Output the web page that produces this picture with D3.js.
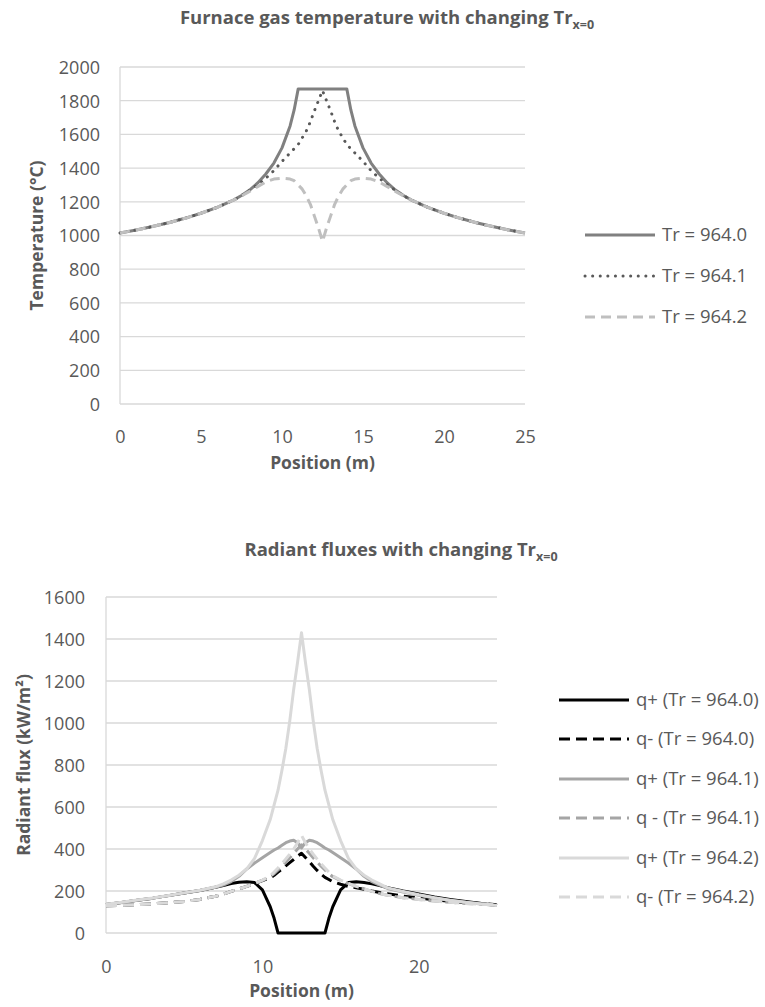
<!DOCTYPE html>
<html>
<head>
<meta charset="utf-8">
<script src="https://cdn.jsdelivr.net/npm/d3@7"></script>
<style>
  body { margin: 0; background: #fff; }
  svg text { font-family: "Open Sans", sans-serif; fill: #595959; }
</style>
</head>
<body>
<svg id="chart" width="765" height="1007"></svg>
<script>
// position grid (m), shared by all series
const position = [0, 1, 2, 3, 4, 5, 6, 7, 7.5, 8, 8.5, 9, 9.5, 10, 10.5,
    10.75, 11, 11.25, 11.5, 11.75, 12, 12.25, 12.5, 12.75, 13, 13.25, 13.5, 13.75, 14, 14.25,
    14.5, 15, 15.5, 16, 16.5, 17, 17.5, 18, 19, 20, 21, 22, 23, 24, 25]

// furnace gas temperature (°C)
const tempTr9640 = [1015, 1033, 1053, 1076, 1102, 1132, 1167, 1210, 1237, 1270, 1312, 1365, 1430, 1520, 1650,
    1745, 1870, 1870, 1870, 1870, 1870, 1870, 1870, 1870, 1870, 1870, 1870, 1870, 1870, 1745,
    1650, 1520, 1430, 1365, 1312, 1270, 1237, 1210, 1167, 1132, 1102, 1076, 1053, 1033, 1015]
const tempTr9641 = [1015, 1033, 1053, 1076, 1102, 1132, 1167, 1210, 1236, 1268, 1302, 1340, 1385, 1440, 1490,
    1515, 1540, 1580, 1620, 1675, 1740, 1800, 1860, 1800, 1740, 1675, 1620, 1580, 1540, 1515,
    1490, 1440, 1385, 1340, 1302, 1268, 1236, 1210, 1167, 1132, 1102, 1076, 1053, 1033, 1015]
const tempTr9642 = [1015, 1033, 1053, 1076, 1102, 1132, 1167, 1210, 1235, 1262, 1290, 1318, 1335, 1340, 1335,
    1325, 1300, 1275, 1235, 1185, 1115, 1045, 965, 1045, 1115, 1185, 1235, 1275, 1300, 1325,
    1335, 1340, 1335, 1318, 1290, 1262, 1235, 1210, 1167, 1132, 1102, 1076, 1053, 1033, 1015]

// radiant fluxes (kW/m²)
const qPlus9640 = [136, 145, 156, 166, 178, 190, 202, 218, 226, 236, 242, 244, 240, 205, 125,
    70, 0, 0, 0, 0, 0, 0, 0, 0, 0, 0, 0, 0, 0, 70,
    125, 205, 240, 244, 240, 234, 226, 216, 200, 186, 172, 160, 150, 140, 131]
const qMinus9640 = [130, 132, 135, 139, 144, 150, 160, 175, 185, 198, 210, 222, 235, 250, 262,
    275, 290, 305, 320, 335, 350, 365, 380, 360, 340, 318, 298, 280, 265, 255,
    244, 232, 222, 215, 208, 200, 193, 187, 176, 167, 158, 151, 145, 140, 135]
const qPlus9641 = [136, 145, 156, 166, 178, 190, 202, 218, 228, 245, 270, 305, 333, 358, 383,
    395, 405, 418, 430, 438, 442, 430, 405, 430, 442, 438, 430, 418, 405, 395,
    383, 358, 333, 305, 270, 245, 228, 212, 195, 180, 167, 155, 146, 138, 131]
const qMinus9641 = [130, 132, 135, 139, 144, 150, 160, 175, 185, 198, 210, 222, 235, 250, 268,
    283, 300, 318, 338, 358, 380, 400, 420, 400, 380, 358, 338, 318, 300, 283,
    268, 250, 235, 222, 210, 198, 188, 180, 168, 160, 152, 146, 141, 137, 134]
const qPlus9642 = [137, 146, 157, 167, 179, 191, 204, 220, 234, 252, 275, 305, 355, 440, 540,
    610, 680, 775, 880, 1010, 1160, 1290, 1430, 1290, 1160, 1010, 880, 775, 680, 610,
    540, 440, 355, 305, 275, 252, 234, 215, 198, 182, 168, 156, 146, 138, 131]
const qMinus9642 = [130, 132, 135, 139, 144, 150, 160, 175, 185, 198, 210, 222, 236, 252, 272,
    290, 310, 330, 352, 375, 400, 430, 465, 430, 400, 375, 352, 330, 310, 290,
    272, 252, 236, 222, 210, 198, 188, 180, 168, 160, 152, 146, 141, 137, 134]

const tempTicks = d3.range(0, 2001, 200)
const posTicksTop = [0, 5, 10, 15, 20, 25]
const fluxTicks = d3.range(0, 1601, 200)
const posTicksBottom = [0, 10, 20]

const tempSeries = [
    { name: "Tr = 964.0", values: tempTr9640, color: "#808080", dash: null },
    { name: "Tr = 964.1", values: tempTr9641, color: "#595959", dash: "0.1 7.5", cap: "round" },
    { name: "Tr = 964.2", values: tempTr9642, color: "#bfbfbf", dash: "10 6" },
]
const fluxSeries = [
    { name: "q+ (Tr = 964.0)", values: qPlus9640, color: "#000000", dash: null },
    { name: "q- (Tr = 964.0)", values: qMinus9640, color: "#000000", dash: "11 6" },
    { name: "q+ (Tr = 964.1)", values: qPlus9641, color: "#a5a5a5", dash: null },
    { name: "q - (Tr = 964.1)", values: qMinus9641, color: "#a5a5a5", dash: "11 6" },
    { name: "q+ (Tr = 964.2)", values: qPlus9642, color: "#d9d9d9", dash: null },
    { name: "q- (Tr = 964.2)", values: qMinus9642, color: "#d9d9d9", dash: "11 6" },
]

const svg = d3.select("#chart")

function drawChart(cfg) {
    const g = svg.append("g")
    const x = d3.scaleLinear().domain([0, 25]).range([cfg.left, cfg.right])
    const y = d3.scaleLinear().domain(cfg.yDomain).range([cfg.bottom, cfg.top])

    // gridlines
    g.append("g")
        .selectAll("line")
        .data(cfg.yTicks)
        .enter()
        .append("line")
        .attr("x1", cfg.left)
        .attr("x2", cfg.right)
        .attr("y1", (d) => y(d))
        .attr("y2", (d) => y(d))
        .attr("stroke", "#d9d9d9")
        .attr("stroke-width", 1.3)

    g.append("line")
        .attr("x1", cfg.left).attr("x2", cfg.left)
        .attr("y1", cfg.top).attr("y2", cfg.bottom)
        .attr("stroke", "#d9d9d9").attr("stroke-width", 1.3)

    // axis labels
    const yAxis = d3.axisLeft(y).tickValues(cfg.yTicks).tickSize(0).tickPadding(0).tickFormat(d3.format("d"))
    const ya = g.append("g").attr("transform", `translate(${cfg.yLabelRight},0)`).call(yAxis)
    ya.select(".domain").remove()
    ya.selectAll("text").attr("font-size", 18).attr("dy", "0.35em").style("font-family", null)

    const xAxis = d3.axisBottom(x).tickValues(cfg.xTicks).tickSize(0).tickPadding(0).tickFormat(d3.format("d"))
    const xa = g.append("g").attr("transform", `translate(0,${cfg.xLabelY})`).call(xAxis)
    xa.select(".domain").remove()
    xa.selectAll("text").attr("font-size", 18).attr("dy", "0.35em").style("font-family", null)

    // series + legend
    const line = d3.line().x((d, i) => x(position[i])).y((d) => y(d))
    cfg.series.forEach((s, i) => {
        g.append("path")
            .attr("d", line(s.values))
            .attr("fill", "none")
            .attr("stroke", s.color)
            .attr("stroke-width", 3)
            .attr("stroke-dasharray", s.dash)
            .attr("stroke-linecap", s.cap || "butt")
            .attr("stroke-linejoin", "round")

        const ly = cfg.legendY[i]
        g.append("line")
            .attr("x1", cfg.legendX).attr("x2", cfg.legendX + 70)
            .attr("y1", ly).attr("y2", ly)
            .attr("stroke", s.color)
            .attr("stroke-width", 3)
            .attr("stroke-dasharray", s.dash)
            .attr("stroke-linecap", s.cap || "butt")
        g.append("text")
            .attr("x", cfg.legendX + 77)
            .attr("y", ly)
            .attr("dy", "0.35em")
            .attr("font-size", 18.5)
            .text(s.name)
    })

    // title with subscript
    const title = g.append("text")
        .attr("x", cfg.titleX).attr("y", cfg.titleY)
        .attr("text-anchor", "middle")
        .attr("font-size", 18.5).attr("font-weight", "bold")
    title.append("tspan").text(cfg.title)
    title.append("tspan").attr("dy", 5).attr("font-size", 12.5).text("x=0")

    g.append("text")
        .attr("x", (cfg.left + cfg.right) / 2).attr("y", cfg.xTitleY)
        .attr("text-anchor", "middle").attr("dy", "0.35em")
        .attr("font-size", 17.5).attr("font-weight", "bold")
        .text("Position (m)")

    g.append("text")
        .attr("transform", `translate(${cfg.yTitleX},${(cfg.top + cfg.bottom) / 2}) rotate(-90)`)
        .attr("text-anchor", "middle").attr("dy", "0.35em")
        .attr("font-size", 17.5).attr("font-weight", "bold")
        .text(cfg.yTitle)
}

drawChart({
    left: 120, right: 525, top: 67, bottom: 404,
    yDomain: [0, 2000], yTicks: tempTicks, xTicks: posTicksTop,
    yLabelRight: 100, xLabelY: 437, xTitleY: 463, yTitleX: 37,
    title: "Furnace gas temperature with changing Tr", titleX: 387, titleY: 24,
    yTitle: "Temperature (°C)",
    series: tempSeries, legendX: 585, legendY: [235, 276, 317],
})

drawChart({
    left: 106, right: 497, top: 597, bottom: 933,
    yDomain: [0, 1600], yTicks: fluxTicks, xTicks: posTicksBottom,
    yLabelRight: 85, xLabelY: 967, xTitleY: 991, yTitleX: 24,
    title: "Radiant fluxes with changing Tr", titleX: 401, titleY: 556,
    yTitle: "Radiant flux (kW/m²)",
    series: fluxSeries, legendX: 559, legendY: [700, 739, 779, 818, 858, 897],
})
</script>
</body>
</html>
